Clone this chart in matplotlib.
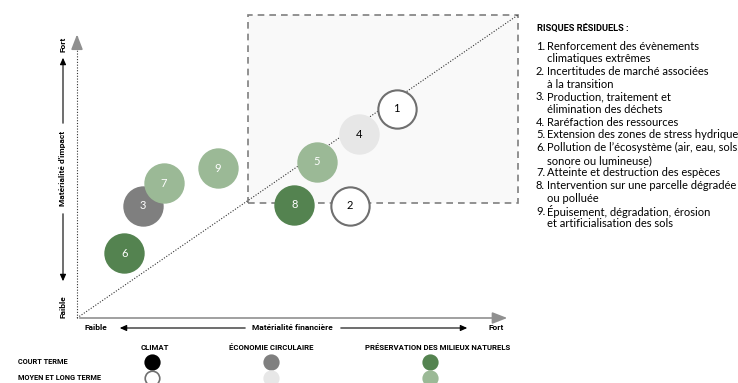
import matplotlib
matplotlib.use("Agg")
import matplotlib.pyplot as plt
from matplotlib.patches import Rectangle

plt.rcParams['font.family'] = ['Lato', 'DejaVu Sans']
BOLD = dict(family=['Roboto', 'DejaVu Sans'], fontweight='bold')

# risks: id, financial materiality (x), impact materiality (y), colour group
risk_ids = ['1', '2', '3', '4', '5', '6', '7', '8', '9']
risk_x = [7.25, 6.19, 1.49, 6.40, 5.44, 1.07, 1.97, 4.93, 3.20]
risk_y = [6.90, 3.71, 3.70, 6.07, 5.15, 2.13, 4.45, 3.74, 4.94]
risk_kind = ['climat_lt', 'climat_lt', 'eco_ct', 'eco_lt', 'nat_lt',
             'nat_ct', 'nat_lt', 'nat_ct', 'nat_lt']

face = {'climat_ct': '#000000', 'climat_lt': '#ffffff',
        'eco_ct': '#7f7f7f', 'eco_lt': '#e7e7e7',
        'nat_ct': '#548350', 'nat_lt': '#9bb996'}
edge = {'climat_lt': '#6f6f6f'}
txt_col = {'climat_lt': 'black', 'eco_lt': 'black'}

legend_cols = ['CLIMAT', 'ÉCONOMIE CIRCULAIRE', 'PRÉSERVATION DES MILIEUX NATURELS']
legend_keys = ['climat', 'eco', 'nat']
legend_rows = ['COURT TERME', 'MOYEN ET LONG TERME']

risk_labels = [
    ("1.", "Renforcement des évènements\nclimatiques extrêmes"),
    ("2.", "Incertitudes de marché associées\nà la transition"),
    ("3.", "Production, traitement et\nélimination des déchets"),
    ("4.", "Raréfaction des ressources"),
    ("5.", "Extension des zones de stress hydrique"),
    ("6.", "Pollution de l’écosystème (air, eau, sols,\nsonore ou lumineuse)"),
    ("7.", "Atteinte et destruction des espèces"),
    ("8.", "Intervention sur une parcelle dégradée\nou polluée"),
    ("9.", "Épuisement, dégradation, érosion\net artificialisation des sols"),
]

W, H = 738, 383
fig = plt.figure(figsize=(W / 100, H / 100), dpi=100)

# main matrix axes: data 0..10 both ways
x0, x1 = 77, 518
y0, y1 = 318, 15
ax = fig.add_axes([x0 / W, 1 - y0 / H, (x1 - x0) / W, (y0 - y1) / H])
ax.set_xlim(0, 10)
ax.set_ylim(0, 10)
ax.axis('off')

# high-materiality zone
ax.add_patch(Rectangle((3.88, 3.8), 10 - 3.88, 10 - 3.8, facecolor='#f9f9f9',
                       edgecolor='#7f7f7f', linestyle=(0, (4, 3)), lw=1.2,
                       clip_on=False, zorder=1))
ax.plot([0, 10], [0, 10], color='#333333', lw=0.8, ls=(0, (1, 1.5)),
        clip_on=False, zorder=2)

# axes arrows
ax.annotate('', xy=(9.82, 0), xytext=(0, 0),
            arrowprops=dict(arrowstyle='-|>,head_width=0.35,head_length=0.9',
                            color='#909090', lw=1.2), zorder=2)
ax.plot([0, 0], [0, 9.3], color='#333333', lw=0.8, ls=(0, (1, 1.5)),
        clip_on=False, zorder=2)
ax.annotate('', xy=(0, 9.45), xytext=(0, 9.1),
            arrowprops=dict(arrowstyle='-|>,head_width=0.35,head_length=0.9',
                            color='#909090', lw=1.2), zorder=2)

for rid, x, y, k in zip(risk_ids, risk_x, risk_y, risk_kind):
    ax.scatter(x, y, s=760, color=face[k], edgecolors=edge.get(k, face[k]),
               linewidths=1.5, clip_on=False, zorder=3)
    ax.text(x, y, rid, ha='center', va='center', fontsize=8,
            color=txt_col.get(k, 'white'), zorder=4)

# overlay in pixel coords for labels / legend
ov = fig.add_axes([0, 0, 1, 1])
ov.set_xlim(0, W)
ov.set_ylim(H, 0)
ov.axis('off')
ov.patch.set_alpha(0)

arr = dict(arrowstyle='-|>,head_width=0.18,head_length=0.4', color='black', lw=0.8)
# x-axis caption
ov.text(96, 328, 'Faible', ha='center', va='center', fontsize=6, **BOLD)
ov.text(292, 328, 'Matérialité financière', ha='center', va='center', fontsize=6,
        **BOLD)
ov.text(496, 328, 'Fort', ha='center', va='center', fontsize=6, **BOLD)
ov.annotate('', xy=(117, 328), xytext=(248, 328), arrowprops=arr)
ov.annotate('', xy=(470, 328), xytext=(338, 328), arrowprops=arr)
# y-axis caption
ov.text(63, 307, 'Faible', ha='center', va='center', fontsize=6,
        rotation=90, **BOLD)
ov.text(63, 168, 'Matérialité d\'impact', ha='center', va='center', fontsize=6,
        rotation=90, **BOLD)
ov.text(63, 44, 'Fort', ha='center', va='center', fontsize=6,
        rotation=90, **BOLD)
ov.annotate('', xy=(63, 55), xytext=(63, 126), arrowprops=arr)
ov.annotate('', xy=(63, 284), xytext=(63, 211), arrowprops=arr)

# legend
col_x = [155, 271, 438]
mark_x = [152, 271, 430]
ov.text(18, 362, legend_rows[0], ha='left', va='center', fontsize=5.3, **BOLD)
ov.text(18, 378, legend_rows[1], ha='left', va='center', fontsize=5.3, **BOLD)
for cx, mx, name, key in zip(col_x, mark_x, legend_cols, legend_keys):
    ov.text(cx, 347, name, ha='center', va='center', fontsize=5.6, **BOLD)
    ov.scatter(mx, 362, s=110, color=face[key + '_ct'], edgecolors=face[key + '_ct'],
               linewidths=1.2, clip_on=False)
    lt = key + '_lt'
    ov.scatter(mx, 378, s=110, color=face[lt], edgecolors=edge.get(lt, face[lt]),
               linewidths=1.2, clip_on=False)

# risk list
ov.text(537, 29, 'RISQUES RÉSIDUELS :', ha='left', va='center', fontsize=6.7, **BOLD)
step = 12.7
yy = 46
for num, lab in risk_labels:
    ov.text(536, yy, num, ha='left', va='center', fontsize=8)
    for line in lab.split('\n'):
        ov.text(547, yy, line, ha='left', va='center', fontsize=8)
        yy += step

fig.savefig('out.png', dpi=100)
